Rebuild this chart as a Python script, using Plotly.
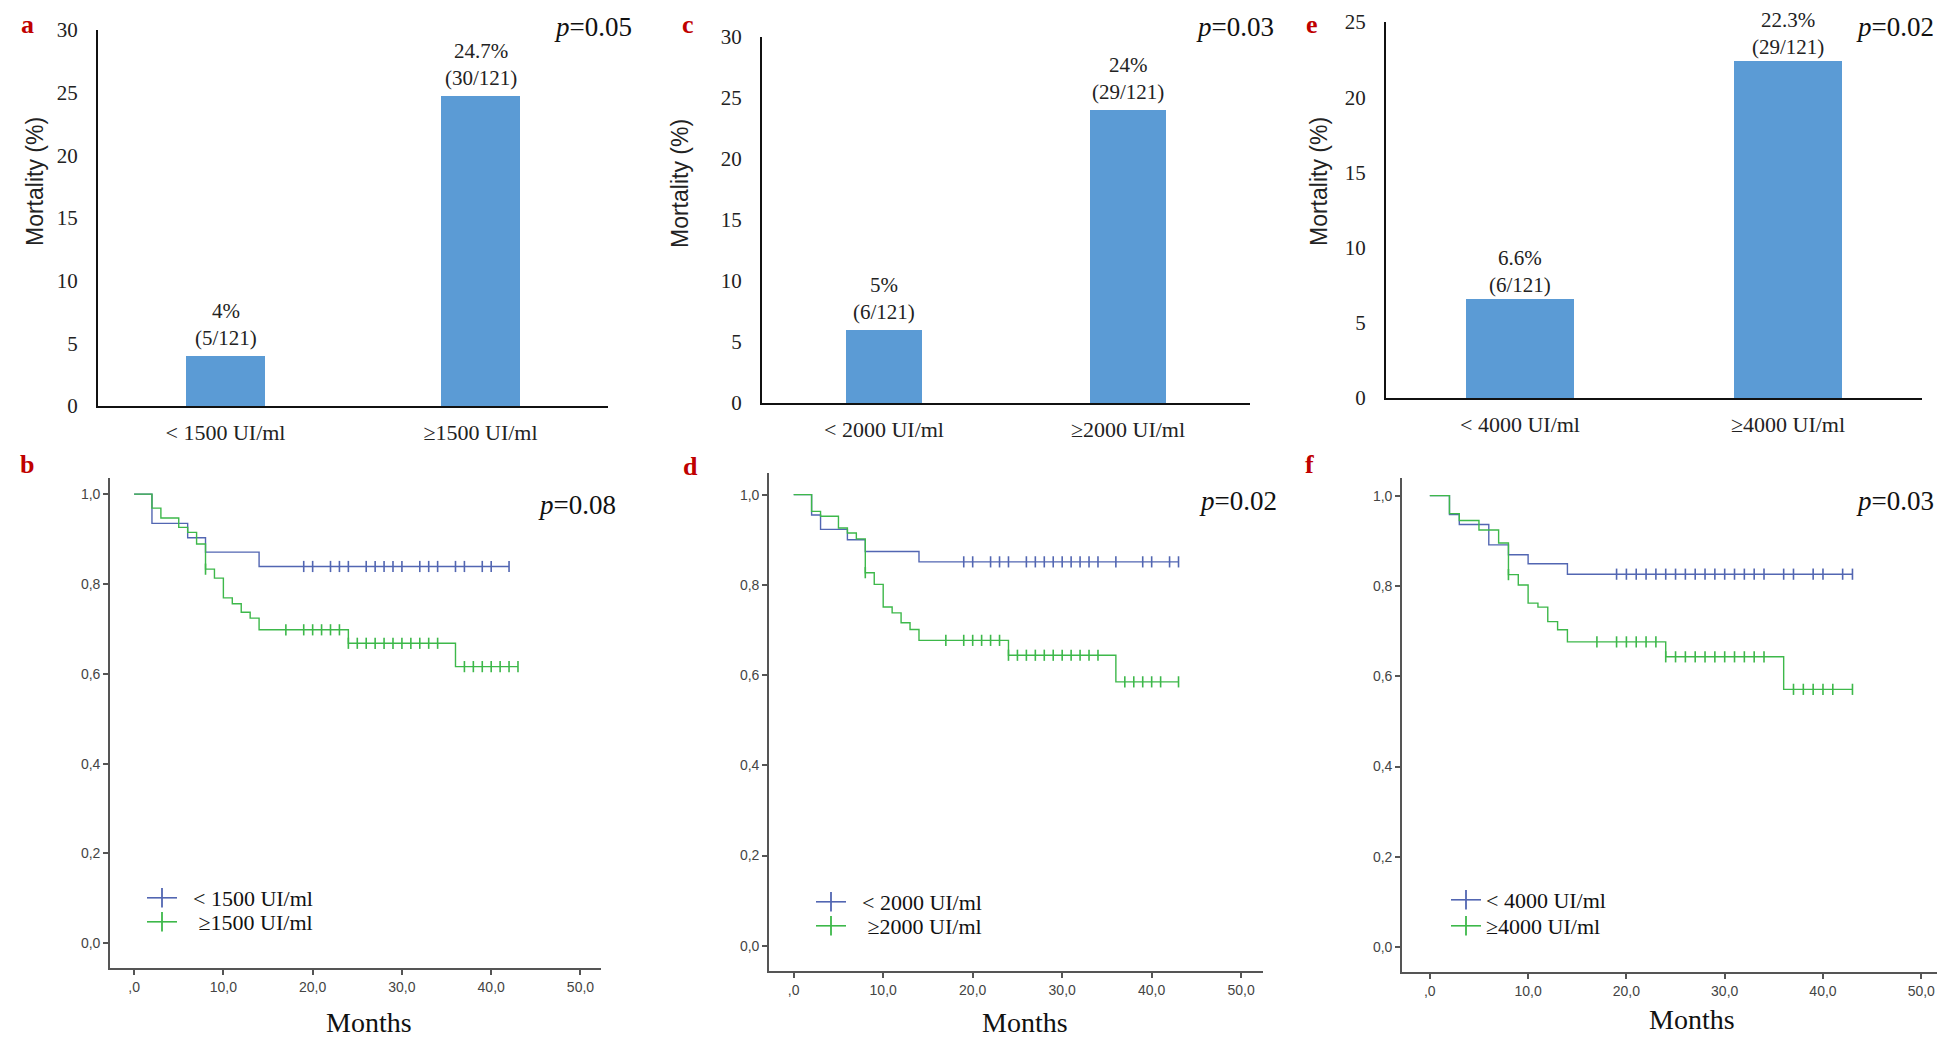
import plotly.graph_objects as go

# page is 1946x1051; the browser body keeps an 8px margin round the figure
PAGE_W, PAGE_H, PAD = 1946, 1051, 8
W, H = PAGE_W - 2 * PAD, PAGE_H - 2 * PAD - 1

# ---------------- data: mortality bars (panels a, c, e) ----------------
bar_a_cats = ["< 1500 UI/ml", "≥1500 UI/ml"]
bar_a_vals = [4.0, 24.7]
bar_a_text = ["4%<br>(5/121)", "24.7%<br>(30/121)"]

bar_c_cats = ["< 2000 UI/ml", "≥2000 UI/ml"]
bar_c_vals = [6.0, 24.0]
bar_c_text = ["5%<br>(6/121)", "24%<br>(29/121)"]

bar_e_cats = ["< 4000 UI/ml", "≥4000 UI/ml"]
bar_e_vals = [6.6, 22.4]
bar_e_text = ["6.6%<br>(6/121)", "22.3%<br>(29/121)"]

# ---------------- data: Kaplan-Meier curves (panels b, d, f) ----------------
b_low_t = [0, 2, 6, 8, 14, 42]
b_low_s = [1.0, 0.935, 0.903, 0.871, 0.839, 0.839]
b_low_cens = [19, 20, 22, 23, 24, 26, 27, 28, 29, 30, 32, 33, 34, 36, 37, 39, 40, 42]
b_high_t = [0, 2, 3, 5, 6, 7, 8, 9, 10, 11, 12, 13, 14, 24, 36, 43]
b_high_s = [1.0, 0.969, 0.947, 0.926, 0.915, 0.889, 0.833, 0.813, 0.769, 0.756,
            0.737, 0.724, 0.698, 0.668, 0.616, 0.616]
b_high_cens = [8, 17, 19, 20, 21, 22, 23, 24, 25, 26, 27, 28, 29, 30, 31, 32, 33, 34,
               37, 38, 39, 40, 41, 42, 43]

d_low_t = [0, 2, 3, 6, 8, 14, 43]
d_low_s = [1.0, 0.955, 0.923, 0.900, 0.874, 0.851, 0.851]
d_low_cens = [19, 20, 22, 23, 24, 26, 27, 28, 29, 30, 31, 32, 33, 34, 36, 39, 40, 42, 43]
d_high_t = [0, 2, 3, 5, 6, 7, 8, 9, 10, 11, 12, 13, 14, 24, 36, 43]
d_high_s = [1.0, 0.963, 0.952, 0.926, 0.915, 0.902, 0.827, 0.801, 0.751, 0.738,
            0.716, 0.701, 0.677, 0.644, 0.585, 0.585]
d_high_cens = [8, 17, 19, 20, 21, 22, 23, 24, 25, 26, 27, 28, 29, 30, 31, 32, 33, 34,
               37, 38, 39, 40, 41, 43]

f_low_t = [0, 2, 3, 6, 8, 10, 14, 43]
f_low_s = [1.0, 0.958, 0.936, 0.891, 0.869, 0.849, 0.826, 0.826]
f_low_cens = [19, 20, 21, 22, 23, 24, 25, 26, 27, 28, 29, 30, 31, 32, 33, 34,
              36, 37, 39, 40, 42, 43]
f_high_t = [0, 2, 3, 5, 7, 8, 9, 10, 11, 12, 13, 14, 24, 36, 43]
f_high_s = [1.0, 0.960, 0.945, 0.924, 0.895, 0.825, 0.802, 0.762, 0.753, 0.721,
            0.703, 0.676, 0.643, 0.571, 0.571]
f_high_cens = [8, 17, 19, 20, 21, 22, 23, 24, 25, 26, 27, 28, 29, 30, 31, 32, 33, 34,
               37, 38, 39, 40, 41, 43]

km_xticks = [0, 10, 20, 30, 40, 50]
km_xticktext = [",0", "10,0", "20,0", "30,0", "40,0", "50,0"]
km_yticks = [0, 0.2, 0.4, 0.6, 0.8, 1.0]
km_yticktext = ["0,0", "0,2", "0,4", "0,6", "0,8", "1,0"]

# ---------------- styling ----------------
SERIF = "Liberation Serif, Times New Roman, serif"
SANS = "Liberation Sans, Arial, sans-serif"
BAR_COLOR = "#5B9BD5"
BLUE = "#5266b2"
GREEN = "#3db84a"
RED = "#c00000"
NB = "\u00a0"


def fx(p):
    # page pixel -> paper fraction
    return (p - PAD) / W


def fy(p):
    return 1 - (p - PAD) / H


fig = go.Figure()
annotations = []


def esc(s):
    return s.replace("<", "&lt;")


def step_at(t, s, x):
    v = s[0]
    for ti, si in zip(t, s):
        if ti <= x:
            v = si
    return v


def add_note(px_, py_, text, font, xanchor="center", **kw):
    annotations.append(dict(x=fx(px_), y=fy(py_), xref="paper", yref="paper", text=text,
                            showarrow=False, xanchor=xanchor, yanchor="middle", font=font, **kw))


def add_bar_panel(n, cats, vals, texts, shifts, width, xdom, ydom, yrange, dtick):
    xa, ya = "x%d" % n, "y%d" % n
    fig.add_trace(go.Bar(x=[0, 1], y=vals, width=width, marker_color=BAR_COLOR,
                         marker_line_width=0, showlegend=False, hoverinfo="skip",
                         xaxis=xa, yaxis=ya))
    for i, (v, t, sh) in enumerate(zip(vals, texts, shifts)):
        annotations.append(dict(x=i, y=v, xref=xa, yref=ya, text=t, showarrow=False,
                                xanchor="center", yanchor="bottom", yshift=sh,
                                font=dict(family=SERIF, size=21, color="#222")))
    fig.update_layout(**{
        "xaxis%d" % n: dict(domain=[fx(xdom[0]), fx(xdom[1])], anchor=ya,
                            range=[-0.5, 1.5], tickvals=[0, 1],
                            ticktext=[esc(c) for c in cats],
                            showline=True, linecolor="#111", linewidth=2,
                            showgrid=False, zeroline=False, ticks="",
                            ticklabelstandoff=6, automargin=False,
                            tickfont=dict(family=SERIF, size=22, color="#222")),
        "yaxis%d" % n: dict(domain=[fy(ydom[1]), fy(ydom[0])], anchor=xa,
                            range=yrange, dtick=dtick, showline=True,
                            linecolor="#111", linewidth=2, showgrid=False,
                            zeroline=False, ticks="", ticklabelstandoff=14,
                            automargin=False,
                            tickfont=dict(family=SERIF, size=21, color="#222")),
    })


def add_km_panel(n, legends, curves, xdom, ydom, xrange, yrange):
    xa, ya = "x%d" % n, "y%d" % n
    for (t, s, cens, color, name), lg in zip(curves, legends):
        fig.add_trace(go.Scatter(x=t, y=s, mode="lines", line=dict(color=color, width=1.4, shape="hv"),
                                 showlegend=False, hoverinfo="skip", xaxis=xa, yaxis=ya))
        fig.add_trace(go.Scatter(x=cens, y=[step_at(t, s, c) for c in cens], mode="markers",
                                 marker=dict(symbol="line-ns", size=8, line=dict(color=color, width=1.6)),
                                 showlegend=False, hoverinfo="skip", xaxis=xa, yaxis=ya))
        fig.add_trace(go.Scatter(x=[None], y=[None], mode="lines+markers", name=name,
                                 line=dict(color=color, width=1.6),
                                 marker=dict(symbol="line-ns", size=14, line=dict(color=color, width=1.8)),
                                 legend=lg, xaxis=xa, yaxis=ya))
    axis_common = dict(showline=True, linecolor="#555", linewidth=1.6, showgrid=False,
                       zeroline=False, ticks="outside", ticklen=5, tickwidth=1.5,
                       tickcolor="#555", automargin=False,
                       tickfont=dict(family=SANS, size=14, color="#444"))
    fig.update_layout(**{
        "xaxis%d" % n: dict(domain=[fx(xdom[0]), fx(xdom[1])], anchor=ya, range=xrange,
                            tickvals=km_xticks, ticktext=km_xticktext, **axis_common),
        "yaxis%d" % n: dict(domain=[fy(ydom[1]), fy(ydom[0])], anchor=xa, range=yrange,
                            tickvals=km_yticks, ticktext=km_yticktext, **axis_common),
    })


add_bar_panel(1, bar_a_cats, bar_a_vals, bar_a_text, [4, 4], 0.31, (98, 608), (30, 406), [0, 30], 5)
add_bar_panel(3, bar_c_cats, bar_c_vals, bar_c_text, [4, 4], 0.31, (762, 1250), (37, 403), [0, 30], 5)
add_bar_panel(5, bar_e_cats, bar_e_vals, bar_e_text, [0, 0], 0.40, (1386, 1922), (22, 398), [0, 25], 5)

add_km_panel(2, ["legend", "legend2"],
             [(b_low_t, b_low_s, b_low_cens, BLUE, NB * 2 + esc(bar_a_cats[0])),
              (b_high_t, b_high_s, b_high_cens, GREEN, NB * 3 + bar_a_cats[1])],
             (110, 601), (478, 968), [-2.7, 52.3], [-0.055, 1.036])
add_km_panel(4, ["legend3", "legend4"],
             [(d_low_t, d_low_s, d_low_cens, BLUE, NB * 2 + esc(bar_c_cats[0])),
              (d_high_t, d_high_s, d_high_cens, GREEN, NB * 3 + bar_c_cats[1])],
             (769, 1263), (473, 971), [-2.76, 52.44], [-0.056, 1.048])
add_km_panel(6, ["legend5", "legend6"],
             [(f_low_t, f_low_s, f_low_cens, BLUE, esc(bar_e_cats[0])),
              (f_high_t, f_high_s, f_high_cens, GREEN, bar_e_cats[1])],
             (1402, 1937), (478, 972), [-2.83, 51.6], [-0.055, 1.039])

# panel letters
for letter, (px_, py_) in zip("abcdef", [(27, 25), (27, 464), (688, 25), (690, 467), (1312, 25), (1309, 464)]):
    add_note(px_, py_, "<b>%s</b>" % letter, dict(family=SERIF, size=26, color=RED))

# p values
for txt, (px_, py_) in zip(["0.05", "0.08", "0.03", "0.02"],
                           [(593, 27), (577, 505), (1235, 27), (1238, 501)]):
    add_note(px_, py_, "<i>p</i>=" + txt, dict(family=SERIF, size=27, color="#111"))
for txt, (px_, py_) in zip(["0.02", "0.03"], [(1936, 27), (1936, 501)]):
    add_note(px_, py_, "<i>p</i>=" + txt, dict(family=SERIF, size=27, color="#111"), xanchor="right")

# y titles of the bar charts
for px_, py_ in [(35, 182), (680, 184), (1319, 182)]:
    add_note(px_, py_, "Mortality (%)", dict(family=SANS, size=23, color="#222"), textangle=-90)

# x titles of the survival charts
for px_, py_ in [(369, 1022), (1025, 1022), (1692, 1019)]:
    add_note(px_, py_, "Months", dict(family=SERIF, size=28, color="#111"))


def legend_at(px_, py_):
    return dict(x=fx(px_), y=fy(py_), bgcolor="rgba(0,0,0,0)", borderwidth=0,
                xanchor="left", yanchor="middle", itemwidth=30,
                font=dict(family=SERIF, size=22, color="#111"))


fig.update_layout(
    width=W, height=H,
    margin=dict(l=0, r=0, t=0, b=0),
    paper_bgcolor="white", plot_bgcolor="white",
    bargap=0,
    annotations=annotations,
    legend=legend_at(142, 898),
    legend2=legend_at(142, 922),
    legend3=legend_at(811, 902),
    legend4=legend_at(811, 926),
    legend5=legend_at(1446, 900),
    legend6=legend_at(1446, 926),
)

fig.write_html("out.html")
